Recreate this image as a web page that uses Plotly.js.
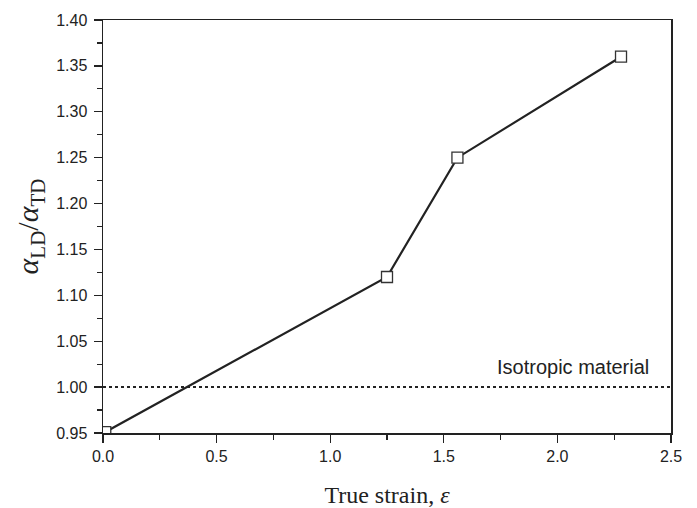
<!DOCTYPE html>
<html>
<head>
<meta charset="utf-8">
<script src="https://cdn.plot.ly/plotly-3.0.1.min.js"></script>
<style>html,body{margin:0;padding:0;background:#fff;}#chart{width:697px;height:508px;}</style>
</head>
<body>
<div id="chart"></div>
<script>
// Data
const strain = [0.01, 1.25, 1.56, 2.28];
const ratio = [0.951, 1.12, 1.25, 1.36];
const isoX = [0, 2.5];
const isoY = [1.0, 1.0];
const isoLabel = "Isotropic material";
const xTickVals = [0, 0.5, 1.0, 1.5, 2.0, 2.5];
const xTickText = ["0.0", "0.5", "1.0", "1.5", "2.0", "2.5"];
const yTickVals = [0.95, 1.00, 1.05, 1.10, 1.15, 1.20, 1.25, 1.30, 1.35, 1.40];
const yTickText = ["0.95", "1.00", "1.05", "1.10", "1.15", "1.20", "1.25", "1.30", "1.35", "1.40"];

const traces = [
  {
    x: isoX, y: isoY, type: 'scatter', mode: 'lines',
    line: {color: '#222', width: 2, dash: 'dot'},
    hoverinfo: 'skip', showlegend: false
  },
  {
    x: strain, y: ratio, type: 'scatter', mode: 'lines+markers',
    line: {color: '#222', width: 2.2},
    marker: {symbol: 'square', size: 11, color: '#fff', line: {width: 1.3, color: '#333'}},
    cliponaxis: true, showlegend: false
  }
];

const axisFont = {family: 'Liberation Sans, Arial, sans-serif', size: 16, color: '#222'};
const layout = {
  width: 697, height: 508,
  margin: {l: 103, r: 26, t: 20, b: 75},
  paper_bgcolor: '#fff', plot_bgcolor: '#fff',
  showlegend: false,
  xaxis: {
    range: [0, 2.5], tickmode: 'array', tickvals: xTickVals, ticktext: xTickText,
    ticks: 'outside', ticklen: 8, tickwidth: 1.3, tickcolor: '#222',
    minor: {dtick: 0.25, ticks: 'outside', ticklen: 5, tickwidth: 1.2, tickcolor: '#222', showgrid: false},
    showline: true, linecolor: '#222', linewidth: 1.5, mirror: true,
    showgrid: false, zeroline: false, tickfont: axisFont,
    title: {text: 'True strain, <i>ε</i>', font: {family: 'Liberation Serif, Times New Roman, serif', size: 24, color: '#222'}, standoff: 22}
  },
  yaxis: {
    range: [0.95, 1.40], tickmode: 'array', tickvals: yTickVals, ticktext: yTickText,
    ticks: 'outside', ticklen: 8, tickwidth: 1.3, tickcolor: '#222',
    minor: {dtick: 0.025, ticks: 'outside', ticklen: 5, tickwidth: 1.2, tickcolor: '#222', showgrid: false},
    showline: true, linecolor: '#222', linewidth: 1.5, mirror: true,
    showgrid: false, zeroline: false, tickfont: axisFont, ticklabelstandoff: 3,
    title: {text: '<i>α</i><sub>LD</sub>/<i>α</i><sub>TD</sub>', font: {family: 'Liberation Serif, Times New Roman, serif', size: 30, color: '#222'}, standoff: 8}
  },
  annotations: [{
    x: 2.07, y: 1.022, xref: 'x', yref: 'y', text: isoLabel, showarrow: false,
    font: {family: 'Liberation Sans, Arial, sans-serif', size: 20, color: '#222'}
  }]
};

Plotly.newPlot('chart', traces, layout, {displayModeBar: false, staticPlot: true});
</script>
</body>
</html>
